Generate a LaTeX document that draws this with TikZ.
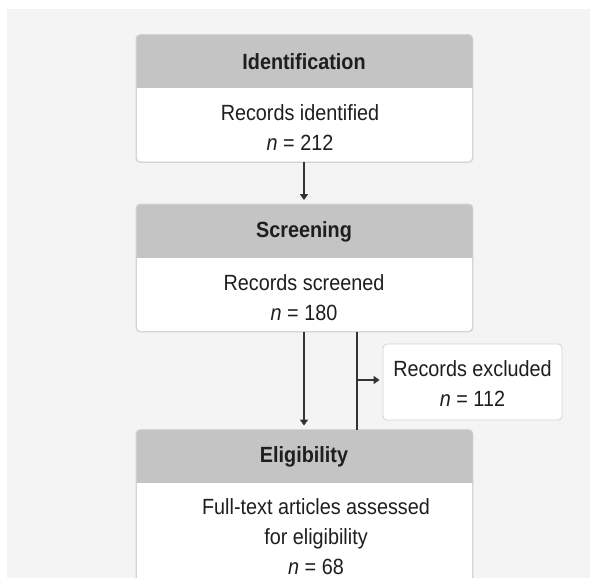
\documentclass[tikz,border=0pt]{standalone}
\usepackage{fontspec}
\setmainfont{Liberation Sans}[FakeStretch=0.9]
\usetikzlibrary{arrows.meta}
\definecolor{panel}{HTML}{F4F4F4}
\definecolor{hdrgray}{HTML}{C4C4C4}
\definecolor{edge}{HTML}{D4D4D4}
\definecolor{ink}{HTML}{1E1E1E}
\definecolor{wire}{HTML}{333333}
\tikzset{
  stagebox/.style={draw=edge, line width=0.8pt, fill=white, rounded corners=4pt,
    minimum width=336pt, inner sep=0pt},
  sidebox/.style={draw=edge, line width=0.8pt, fill=white, rounded corners=4pt,
    minimum width=179pt, minimum height=76pt, inner sep=0pt},
  hdrtext/.style={font=\fontsize{22}{30}\selectfont\bfseries, text=ink},
  bodytext/.style={font=\fontsize{22}{30}\selectfont, text=ink, align=center},
  flow/.style={draw=wire, line width=1.3pt, -{Triangle[length=6pt,width=8pt]}},
  wireline/.style={draw=wire, line width=1.3pt}
}
\newcommand{\hdrband}[2]{%
  \begin{scope}
    \clip[rounded corners=4pt] (#1.north west) rectangle (#1.south east);
    \fill[hdrgray] (#1.north west) rectangle ([yshift=-#2]#1.north east);
  \end{scope}
  \draw[edge, line width=0.8pt, rounded corners=4pt] (#1.north west) rectangle (#1.south east);}
\begin{document}
\begin{tikzpicture}[x=1pt,y=-1pt]
  \clip (0,0) rectangle (590,578);
  \fill[white] (0,0) rectangle (590,578);
  \fill[panel] (7,9) rectangle (590,578);

  % stage boxes
  \node[stagebox, minimum height=127pt] (b1) at (304.5,98.5) {};
  \hdrband{b1}{53.5pt}
  \node[stagebox, minimum height=127pt] (b2) at (304.5,268) {};
  \hdrband{b2}{53.5pt}
  \node[stagebox, minimum height=180pt] (b3) at (304.5,520) {};
  \hdrband{b3}{53pt}

  % excluded records
  \node[sidebox] (ex) at (472.5,382) {};

  % texts
  \node[hdrtext] (t1) at (304,62) {Identification};
  \node[bodytext] (n1) at (300,128) {Records identified\\\textit{n} = 212};
  \node[hdrtext] (t2) at (304,232) {Screening};
  \node[bodytext] (n2) at (304,298) {Records screened\\\textit{n} = 180};
  \node[hdrtext] (t3) at (304,457) {Eligibility};
  \node[bodytext] (n3) at (316,537) {Full-text articles assessed\\for eligibility\\\textit{n} = 68};
  \node[bodytext] (nx) at (472.5,384) {Records excluded\\\textit{n} = 112};

  % connectors
  \draw[flow, shorten >=4pt] (b1.south -| 304,0) -- (b2.north -| 304,0);
  \draw[flow, shorten >=4pt] (b2.south -| 304,0) -- (b3.north -| 304,0);
  \coordinate (split) at (357,380);
  \draw[wireline] (b2.south -| split) -- (b3.north -| split);
  \draw[flow, shorten >=3pt] (split) -- (ex.west |- split);
\end{tikzpicture}
\end{document}
